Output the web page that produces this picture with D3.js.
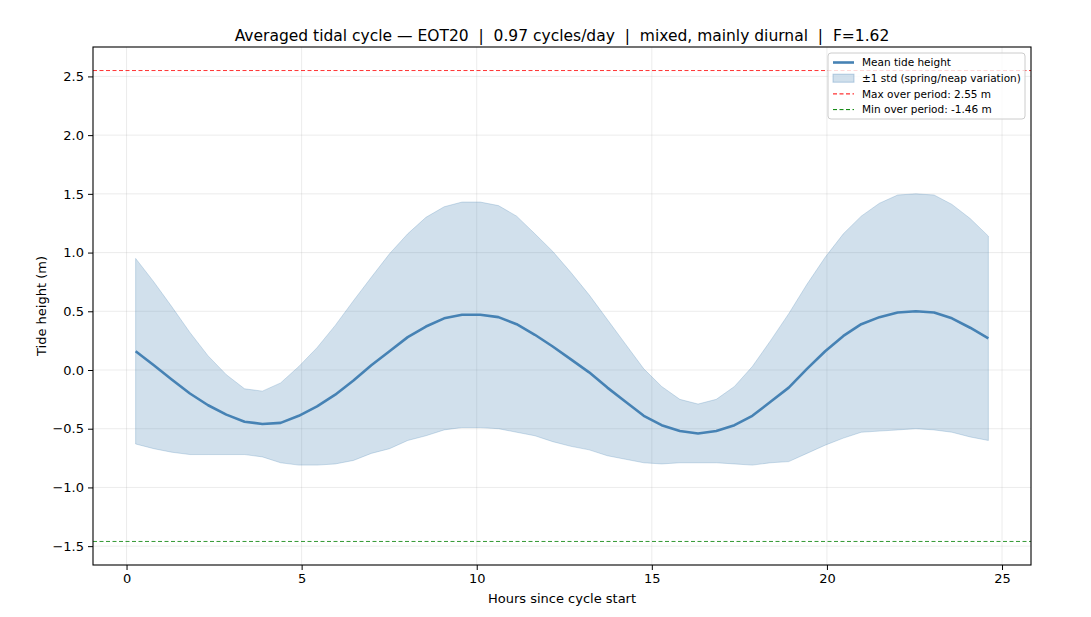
<!DOCTYPE html>
<html>
<head>
<meta charset="utf-8">
<script src="https://cdn.jsdelivr.net/npm/d3@7"></script>
<style>
  body { margin: 0; background: #fff; }
  svg { font-family: "DejaVu Sans", sans-serif; }
  .title { white-space: pre; }
</style>
</head>
<body>
<svg id="chart"></svg>
<script>
// hour bins of the averaged cycle
const hours = [0.26, 0.78, 1.29, 1.81, 2.33, 2.85, 3.37, 3.88, 4.40, 4.92, 5.44, 5.96,
  6.48, 6.99, 7.51, 8.03, 8.55, 9.07, 9.58, 10.10, 10.62, 11.14, 11.66, 12.17,
  12.69, 13.21, 13.73, 14.25, 14.77, 15.28, 15.80, 16.32, 16.84, 17.36, 17.87, 18.39,
  18.91, 19.43, 19.95, 20.47, 20.98, 21.50, 22.02, 22.54, 23.06, 23.57, 24.09, 24.61];

const meanHeight = [0.16, 0.04, -0.08, -0.20, -0.30, -0.38, -0.44, -0.46, -0.45, -0.39, -0.31, -0.21,
  -0.09, 0.04, 0.16, 0.28, 0.37, 0.44, 0.47, 0.47, 0.45, 0.39, 0.30, 0.20,
  0.09, -0.02, -0.15, -0.27, -0.39, -0.47, -0.52, -0.54, -0.52, -0.47, -0.39, -0.27,
  -0.15, 0.01, 0.16, 0.29, 0.39, 0.45, 0.49, 0.50, 0.49, 0.44, 0.36, 0.27];

const stdHeight = [0.79, 0.71, 0.62, 0.52, 0.42, 0.34, 0.28, 0.28, 0.34, 0.42, 0.50, 0.59,
  0.68, 0.75, 0.83, 0.88, 0.93, 0.95, 0.96, 0.96, 0.95, 0.92, 0.86, 0.81,
  0.74, 0.66, 0.58, 0.49, 0.40, 0.33, 0.27, 0.25, 0.27, 0.33, 0.42, 0.52,
  0.63, 0.72, 0.80, 0.87, 0.92, 0.97, 1.00, 1.00, 1.00, 0.97, 0.93, 0.87];

const maxLevel = 2.55;
const minLevel = -1.46;

const xTicks = [0, 5, 10, 15, 20, 25];
const yTicks = [-1.5, -1.0, -0.5, 0.0, 0.5, 1.0, 1.5, 2.0, 2.5];

const legendLabels = ["Mean tide height", "±1 std (spring/neap variation)",
  "Max over period: 2.55 m", "Min over period: -1.46 m"];

const titleText = "Averaged tidal cycle \u2014 EOT20  |  0.97 cycles/day  |  mixed, mainly diurnal  |  F=1.62";

const W = 1091, H = 617;
const margin = {top: 47, right: 60, bottom: 52, left: 93};
const width = W - margin.left - margin.right;
const height = H - margin.top - margin.bottom;

const svg = d3.select("#chart").attr("width", W).attr("height", H);
const g = svg.append("g").attr("transform", `translate(${margin.left},${margin.top})`);

// matplotlib style 5% padding
const xExt = d3.extent(hours);
const xPad = (xExt[1] - xExt[0]) * 0.05;
const x = d3.scaleLinear().domain([xExt[0] - xPad, xExt[1] + xPad]).range([0, width]);
const yPad = (maxLevel - minLevel) * 0.05;
const y = d3.scaleLinear().domain([minLevel - yPad, maxLevel + yPad]).range([height, 0]);

const minus = s => s.replace("-", "\u2212");

// grid
g.append("g").selectAll("line").data(xTicks).join("line")
  .attr("x1", d => x(d)).attr("x2", d => x(d)).attr("y1", 0).attr("y2", height)
  .attr("stroke", "#b0b0b0").attr("stroke-opacity", 0.3).attr("stroke-width", 0.8);
g.append("g").selectAll("line").data(yTicks).join("line")
  .attr("y1", d => y(d)).attr("y2", d => y(d)).attr("x1", 0).attr("x2", width)
  .attr("stroke", "#b0b0b0").attr("stroke-opacity", 0.3).attr("stroke-width", 0.8);

const rows = hours.map((h, i) => ({h, m: meanHeight[i], s: stdHeight[i]}));

// std band
g.append("path").datum(rows)
  .attr("d", d3.area().x(d => x(d.h)).y0(d => y(d.m - d.s)).y1(d => y(d.m + d.s)))
  .attr("fill", "steelblue").attr("fill-opacity", 0.25)
  .attr("stroke", "steelblue").attr("stroke-opacity", 0.25).attr("stroke-width", 1);

// mean line
g.append("path").datum(rows)
  .attr("d", d3.line().x(d => x(d.h)).y(d => y(d.m)))
  .attr("fill", "none").attr("stroke", "steelblue").attr("stroke-width", 2.6)
  .attr("stroke-linejoin", "round");

// max / min lines
[[maxLevel, "red"], [minLevel, "green"]].forEach(([v, c]) => {
  g.append("line").attr("x1", 0).attr("x2", width).attr("y1", y(v)).attr("y2", y(v))
    .attr("stroke", c).attr("stroke-width", 1).attr("stroke-dasharray", "4,2.5")
    .attr("stroke-opacity", 0.8);
});

// axes
const xAxis = g.append("g").attr("transform", `translate(0,${height})`)
  .call(d3.axisBottom(x).tickValues(xTicks).tickSize(5).tickPadding(4).tickFormat(d3.format("d")));
const yAxis = g.append("g")
  .call(d3.axisLeft(y).tickValues(yTicks).tickSize(5).tickPadding(4).tickFormat(d => minus(d3.format(".1f")(d))));
[xAxis, yAxis].forEach(a => {
  a.select(".domain").remove();
  a.selectAll("text").attr("font-size", 13).attr("fill", "#000").attr("font-family", "DejaVu Sans");
  a.selectAll("line").attr("stroke", "#000").attr("stroke-width", 1);
});

// frame
g.append("rect").attr("width", width).attr("height", height)
  .attr("fill", "none").attr("stroke", "#000").attr("stroke-width", 1.1);

// labels
svg.append("text").attr("x", margin.left + width / 2).attr("y", 603)
  .attr("text-anchor", "middle").attr("font-size", 13).text("Hours since cycle start");
svg.append("text").attr("transform", `translate(46,${margin.top + height / 2}) rotate(-90)`)
  .attr("text-anchor", "middle").attr("font-size", 13).text("Tide height (m)");
svg.append("text").attr("class", "title").attr("x", margin.left + width / 2).attr("y", 41)
  .attr("text-anchor", "middle").attr("font-size", 15.5).text(titleText);

// legend
const lg = g.append("g").attr("transform", `translate(${width - 203},6)`);
lg.append("rect").attr("width", 197).attr("height", 66).attr("rx", 3)
  .attr("fill", "#fff").attr("fill-opacity", 0.8).attr("stroke", "#ccc").attr("stroke-width", 1);
const rowY = i => 9.5 + i * 15.7;
lg.append("line").attr("x1", 5).attr("x2", 26).attr("y1", rowY(0)).attr("y2", rowY(0))
  .attr("stroke", "steelblue").attr("stroke-width", 2.6);
lg.append("rect").attr("x", 5).attr("y", rowY(1) - 4).attr("width", 21).attr("height", 8)
  .attr("fill", "steelblue").attr("fill-opacity", 0.25)
  .attr("stroke", "steelblue").attr("stroke-opacity", 0.35);
lg.append("line").attr("x1", 5).attr("x2", 26).attr("y1", rowY(2)).attr("y2", rowY(2))
  .attr("stroke", "red").attr("stroke-dasharray", "4,2.5");
lg.append("line").attr("x1", 5).attr("x2", 26).attr("y1", rowY(3)).attr("y2", rowY(3))
  .attr("stroke", "green").attr("stroke-dasharray", "4,2.5");
lg.selectAll("text.lab").data(legendLabels).join("text").attr("class", "lab")
  .attr("x", 34).attr("y", (d, i) => rowY(i) + 3.8)
  .attr("font-size", 10.5).text(d => d);
</script>
</body>
</html>
